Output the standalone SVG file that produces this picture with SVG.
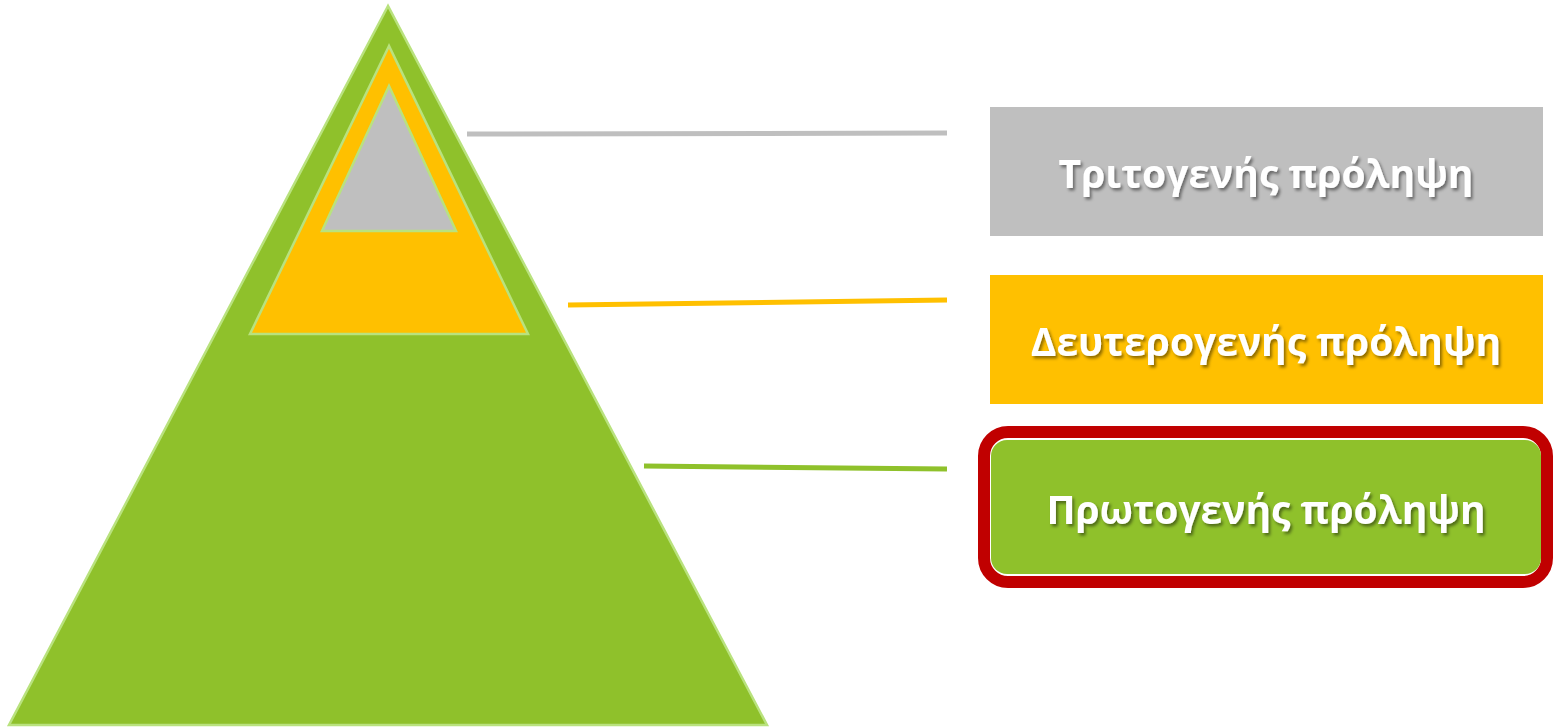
<svg xmlns="http://www.w3.org/2000/svg" width="1553" height="727" viewBox="0 0 1553 727">
<defs>
<filter id="sh" x="-10%" y="-30%" width="120%" height="160%">
<feDropShadow dx="2" dy="2.5" stdDeviation="1.5" flood-color="#000" flood-opacity="0.45"/>
</filter>
<style>
.tri{stroke:#b9e27e;stroke-width:2.5;stroke-linejoin:miter}
.lbl{font-family:"Open Sans","DejaVu Sans",sans-serif;font-weight:bold;font-size:39px;fill:#fff;text-anchor:middle;dominant-baseline:central}
.con{stroke-width:5;fill:none}
</style>
</defs>
<g id="pyramid">
<polygon class="tri" points="388,6 9,725 767,725" fill="#8fc12b"/>
<polygon class="tri" points="389,46 250,334 528,334" fill="#ffc000"/>
<polygon class="tri" points="389,86 322,231 456,231" fill="#bfbfbf"/>
</g>
<g id="connectors">
<line class="con" x1="467" y1="134" x2="947" y2="133" stroke="#bfbfbf"/>
<line class="con" x1="568" y1="305" x2="947" y2="300" stroke="#ffc000"/>
<line class="con" x1="644" y1="466" x2="947" y2="469" stroke="#8fc12b"/>
</g>
<g id="tertiary">
<rect x="990" y="107" width="553" height="129" fill="#bfbfbf"/>
<text class="lbl" x="1266" y="172" filter="url(#sh)">Τριτογενής πρόληψη</text>
</g>
<g id="secondary">
<rect x="990" y="275" width="553" height="129" fill="#ffc000"/>
<text class="lbl" x="1266" y="340" filter="url(#sh)">Δευτερογενής πρόληψη</text>
</g>
<g id="primary">
<rect x="984" y="432" width="563" height="150" rx="24" fill="#fff" stroke="#c00000" stroke-width="12"/>
<rect x="991" y="440" width="550" height="134" rx="16" fill="#8fc12b"/>
<text class="lbl" x="1266" y="508" filter="url(#sh)">Πρωτογενής πρόληψη</text>
</g>
</svg>
